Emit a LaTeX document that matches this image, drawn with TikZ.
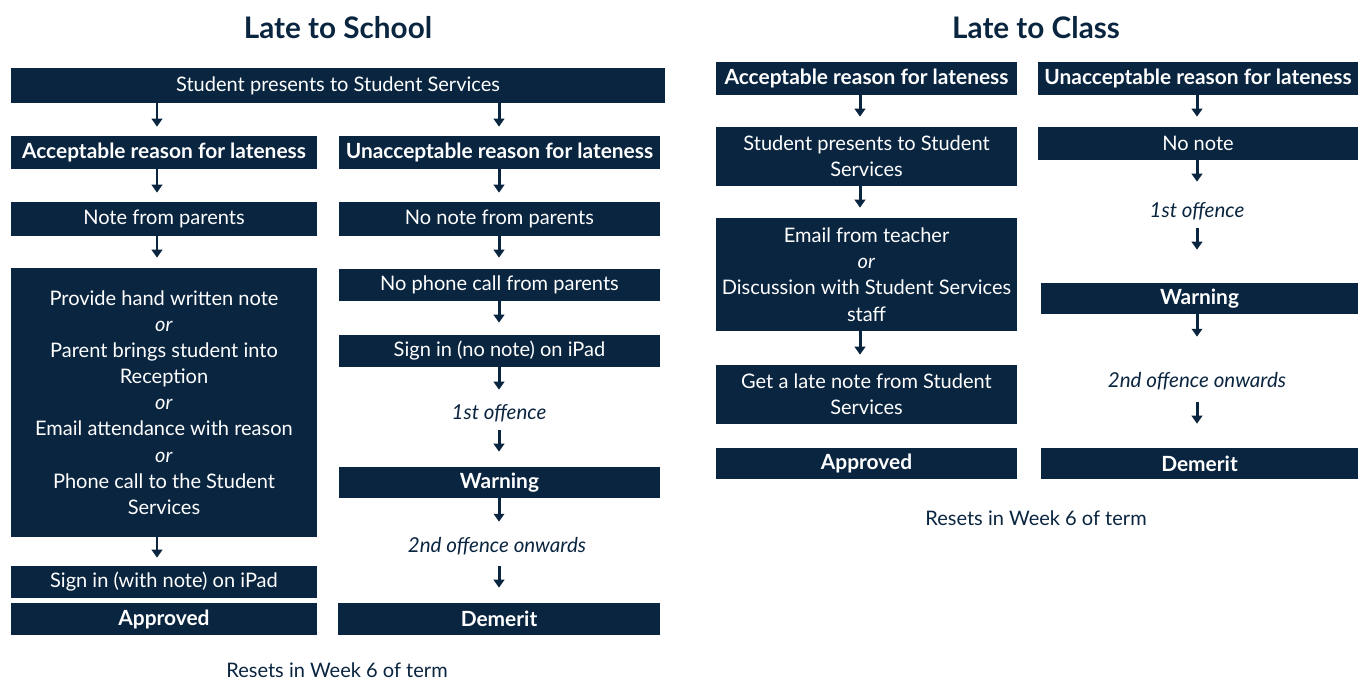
\documentclass[tikz,border=0pt]{standalone}
\usepackage{fontspec}
\setmainfont{Lato}
\usetikzlibrary{arrows.meta}

\definecolor{navy}{HTML}{0A2540}

\tikzset{
  box/.style={fill=navy, text=white, inner sep=0pt, align=center,
    font=\fontsize{11.4}{14.9}\selectfont},
  headbox/.style={box, font=\fontsize{11.9}{14.9}\selectfont\bfseries},
  size/.style 2 args={minimum width=#1*0.02cm, minimum height=#2*0.02cm},
  offence/.style={text=navy, inner sep=0pt, minimum height=0.48cm,
    font=\fontsize{11.7}{14.9}\selectfont\itshape},
  arr/.style={navy, line width=1.7pt, -{Triangle[width=6pt,length=4.5pt]},
    shorten >=0.2cm},
  title/.style={text=navy, font=\fontsize{16.9}{20}\selectfont\bfseries},
  resets/.style={text=navy, font=\fontsize{11.4}{13}\selectfont},
}

\begin{document}
\begin{tikzpicture}[x=0.02cm, y=-0.02cm]
  \useasboundingbox (0,0) rectangle (1362,682);

  % arrow columns
  \coordinate (colA) at (157,0);
  \coordinate (colB) at (499,0);
  \coordinate (colC) at (860,0);
  \coordinate (colD) at (1197,0);

  % late to school
  \node[title] (ttlA) at (338,28) {Late to School};
  \node[box, size={654}{35}] (top) at (338,85.5) {Student presents to Student Services};
  \node[headbox, size={306}{33}] (accA) at (164,152.5) {Acceptable reason for lateness};
  \node[headbox, size={321}{33}] (unaA) at (499.5,152.5) {Unacceptable reason for lateness};
  \node[box, size={306}{34}] (noteA) at (164,219) {Note from parents};
  \node[box, size={321}{34}] (nonoteA) at (499.5,219) {No note from parents};
  \node[box, size={306}{269}] (provA) at (164,402.5) {Provide hand written note\\\textit{or}\\Parent brings student into\\Reception\\\textit{or}\\Email attendance with reason\\\textit{or}\\Phone call to the Student\\Services};
  \node[box, size={321}{32}] (phoneA) at (499.5,285) {No phone call from parents};
  \node[box, size={321}{32}] (ipadA) at (499.5,351) {Sign in (no note) on iPad};
  \node[offence] (firstA) at (499,413) {1st offence};
  \node[headbox, size={321}{31}] (warnA) at (499.5,482.5) {Warning};
  \node[offence] (secondA) at (497,546) {2nd offence onwards};
  \node[headbox, size={322}{32}] (demA) at (499,619) {Demerit};
  \node[box, size={306}{32}] (withA) at (164,582) {Sign in (with note) on iPad};
  \node[headbox, size={306}{32}] (apprA) at (164,619) {Approved};
  \node[resets] (resetA) at (337,670) {Resets in Week 6 of term};

  \draw[arr, shorten >=0.18cm] (top.south -| colA) -- (accA.north -| colA);
  \draw[arr, shorten >=0.18cm] (top.south -| colB) -- (unaA.north -| colB);
  \draw[arr, shorten >=0.18cm] (accA.south -| colA) -- (noteA.north -| colA);
  \draw[arr, shorten >=0.18cm] (unaA.south -| colB) -- (nonoteA.north -| colB);
  \draw[arr] (noteA.south -| colA) -- (provA.north -| colA);
  \draw[arr, shorten >=0.22cm] (nonoteA.south -| colB) -- (phoneA.north -| colB);
  \draw[arr, shorten >=0.24cm] (phoneA.south -| colB) -- (ipadA.north -| colB);
  \draw[arr, shorten >=0.22cm] (ipadA.south -| colB) -- (firstA.north -| colB);
  \draw[arr, shorten <=0.1cm, shorten >=0.3cm] (firstA.south -| colB) -- (warnA.north -| colB);
  \draw[arr, shorten >=0.24cm] (warnA.south -| colB) -- (secondA.north -| colB);
  \draw[arr, shorten <=0.16cm, shorten >=0.3cm] (secondA.south -| colB) -- (demA.north -| colB);
  \draw[arr, shorten >=0.16cm] (provA.south -| colA) -- (withA.north -| colA);

  % late to class
  \node[title] (ttlB) at (1036,28) {Late to Class};
  \node[headbox, size={301}{33}] (accB) at (866.5,78.5) {Acceptable reason for lateness};
  \node[headbox, size={320}{33}] (unaB) at (1198,78.5) {Unacceptable reason for lateness};
  \node[box, size={301}{59}] (presB) at (866.5,156.5) {Student presents to Student\\Services};
  \node[box, size={320}{33}] (nonoteB) at (1198,143.5) {No note};
  \node[box, size={301}{113}] (emailB) at (866.5,274.5) {Email from teacher\\\textit{or}\\Discussion with Student Services\\staff};
  \node[box, size={301}{59}] (lateB) at (866.5,394.5) {Get a late note from Student\\Services};
  \node[headbox, size={301}{31}] (apprB) at (866.5,463.5) {Approved};
  \node[offence] (firstB) at (1197,211) {1st offence};
  \node[headbox, size={317}{31}] (warnB) at (1199.5,298.5) {Warning};
  \node[offence] (secondB) at (1197,381) {2nd offence onwards};
  \node[headbox, size={317}{31}] (demB) at (1199.5,463.5) {Demerit};
  \node[resets] (resetB) at (1036,518) {Resets in Week 6 of term};

  \draw[arr] (accB.south -| colC) -- (presB.north -| colC);
  \draw[arr] (unaB.south -| colD) -- (nonoteB.north -| colD);
  \draw[arr] (presB.south -| colC) -- (emailB.north -| colC);
  \draw[arr] (emailB.south -| colC) -- (lateB.north -| colC);
  \draw[arr, shorten >=0.34cm] (nonoteB.south -| colD) -- (firstB.north -| colD);
  \draw[arr, shorten <=0.1cm, shorten >=0.66cm] (firstB.south -| colD) -- (warnB.north -| colD);
  \draw[arr, shorten >=0.64cm] (warnB.south -| colD) -- (secondB.north -| colD);
  \draw[arr, shorten <=0.18cm, shorten >=0.48cm] (secondB.south -| colD) -- (demB.north -| colD);
\end{tikzpicture}
\end{document}
